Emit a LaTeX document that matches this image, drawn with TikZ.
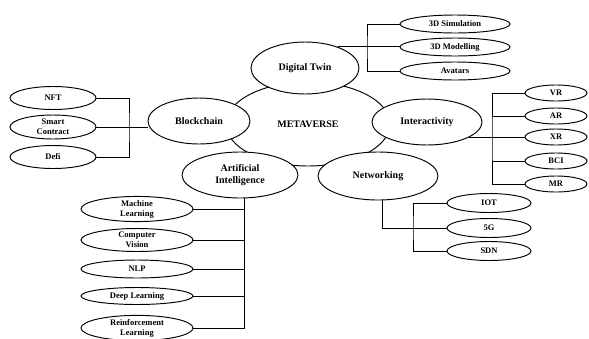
\documentclass[tikz,border=0pt]{standalone}
\usepackage{fontspec}
\setmainfont{Liberation Serif}
\usetikzlibrary{shapes.geometric}

\begin{document}
\begin{tikzpicture}[x=1pt, y=-1pt, line width=0.95pt,
  topic/.style={ellipse, draw, fill=white, inner sep=0pt, align=center, font=\bfseries\fontsize{10}{12.5}\selectfont},
  leaf/.style={ellipse, draw, fill=white, inner sep=0pt, align=center, font=\bfseries\fontsize{8.5}{10}\selectfont}]
  \useasboundingbox (0,0) rectangle (589,338);
  % hub and main topics
  \node[topic, minimum width=164pt, minimum height=84pt] (meta) at (308,124) {METAVERSE};
  \node[topic, minimum width=108pt, minimum height=52pt] (dtwin) at (305,68) {Digital Twin};
  \node[topic, minimum width=102pt, minimum height=46pt] (chain) at (199,121) {Blockchain};
  \node[topic, minimum width=110pt, minimum height=46pt] (inter) at (427,122) {Interactivity};
  \node[topic, minimum width=116pt, minimum height=46pt] (ai) at (240,175) {Artificial\\Intelligence};
  \node[topic, minimum width=120pt, minimum height=48pt] (net) at (378,176) {Networking};
  % blockchain leaves
  \node[leaf, minimum width=86pt, minimum height=23pt] (nft) at (53,98) {NFT};
  \node[leaf, minimum width=86pt, minimum height=24pt] (smart) at (53,127) {Smart\\Contract};
  \node[leaf, minimum width=86pt, minimum height=23pt] (defi) at (53,157) {Defi};
  \coordinate (bcbar) at (129,127);
  \draw (nft.east) -| (bcbar) |- (defi.east);
  \draw (smart.east) -- (smart.east -| chain.west);
  % digital twin leaves
  \node[leaf, minimum width=110pt, minimum height=18pt] (sim) at (455,24) {3D Simulation};
  \node[leaf, minimum width=110pt, minimum height=18pt] (model) at (455,47) {3D Modelling};
  \node[leaf, minimum width=110pt, minimum height=18pt] (avatar) at (455,71) {Avatars};
  \coordinate (dtbar) at (367,47);
  \draw (sim.west) -| (dtbar) |- (avatar.west);
  \draw (dtwin.33) -- (dtwin.33 -| model.west);
  % interactivity leaves
  \foreach \nm/\lbl/\y in {vr/VR/93, ar/AR/116, xr/XR/137, bci/BCI/161, mr/MR/184}
    \node[leaf, minimum width=62pt, minimum height=16pt] (\nm) at (556,\y) {\lbl};
  \coordinate (itbar) at (492,137);
  \draw (vr.west) -| (itbar) |- (mr.west);
  \foreach \nm in {ar, bci} { \draw (\nm.west) -- (\nm.west -| itbar); }
  \draw (inter.-20) -- (inter.-20 -| xr.west);
  % networking leaves
  \node[leaf, minimum width=84pt, minimum height=19pt] (iot) at (489,203) {IOT};
  \node[leaf, minimum width=84pt, minimum height=19pt] (fiveg) at (489,228) {5G};
  \node[leaf, minimum width=84pt, minimum height=19pt] (sdn) at (489,251) {SDN};
  \coordinate (ntbar) at (413,228);
  \draw (iot.west) -| (ntbar) |- (sdn.west);
  \draw (net.-80) |- (fiveg.west);
  % ai leaves
  \node[leaf, minimum width=112pt, minimum height=21pt] (ml) at (137,209) {Machine\\Learning};
  \node[leaf, minimum width=112pt, minimum height=23pt] (cv) at (137,240) {Computer\\Vision};
  \node[leaf, minimum width=112pt, minimum height=18pt] (nlp) at (137,269) {NLP};
  \node[leaf, minimum width=112pt, minimum height=17pt] (dl) at (137,296) {Deep Learning};
  \node[leaf, minimum width=112pt, minimum height=20pt] (rl) at (137,328) {Reinforcement\\Learning};
  \draw (ai.-80) |- (rl.east);
  \foreach \nm in {ml, cv, nlp, dl} { \draw (\nm.east) -- (\nm.east -| ai.-80); }
\end{tikzpicture}
\end{document}
